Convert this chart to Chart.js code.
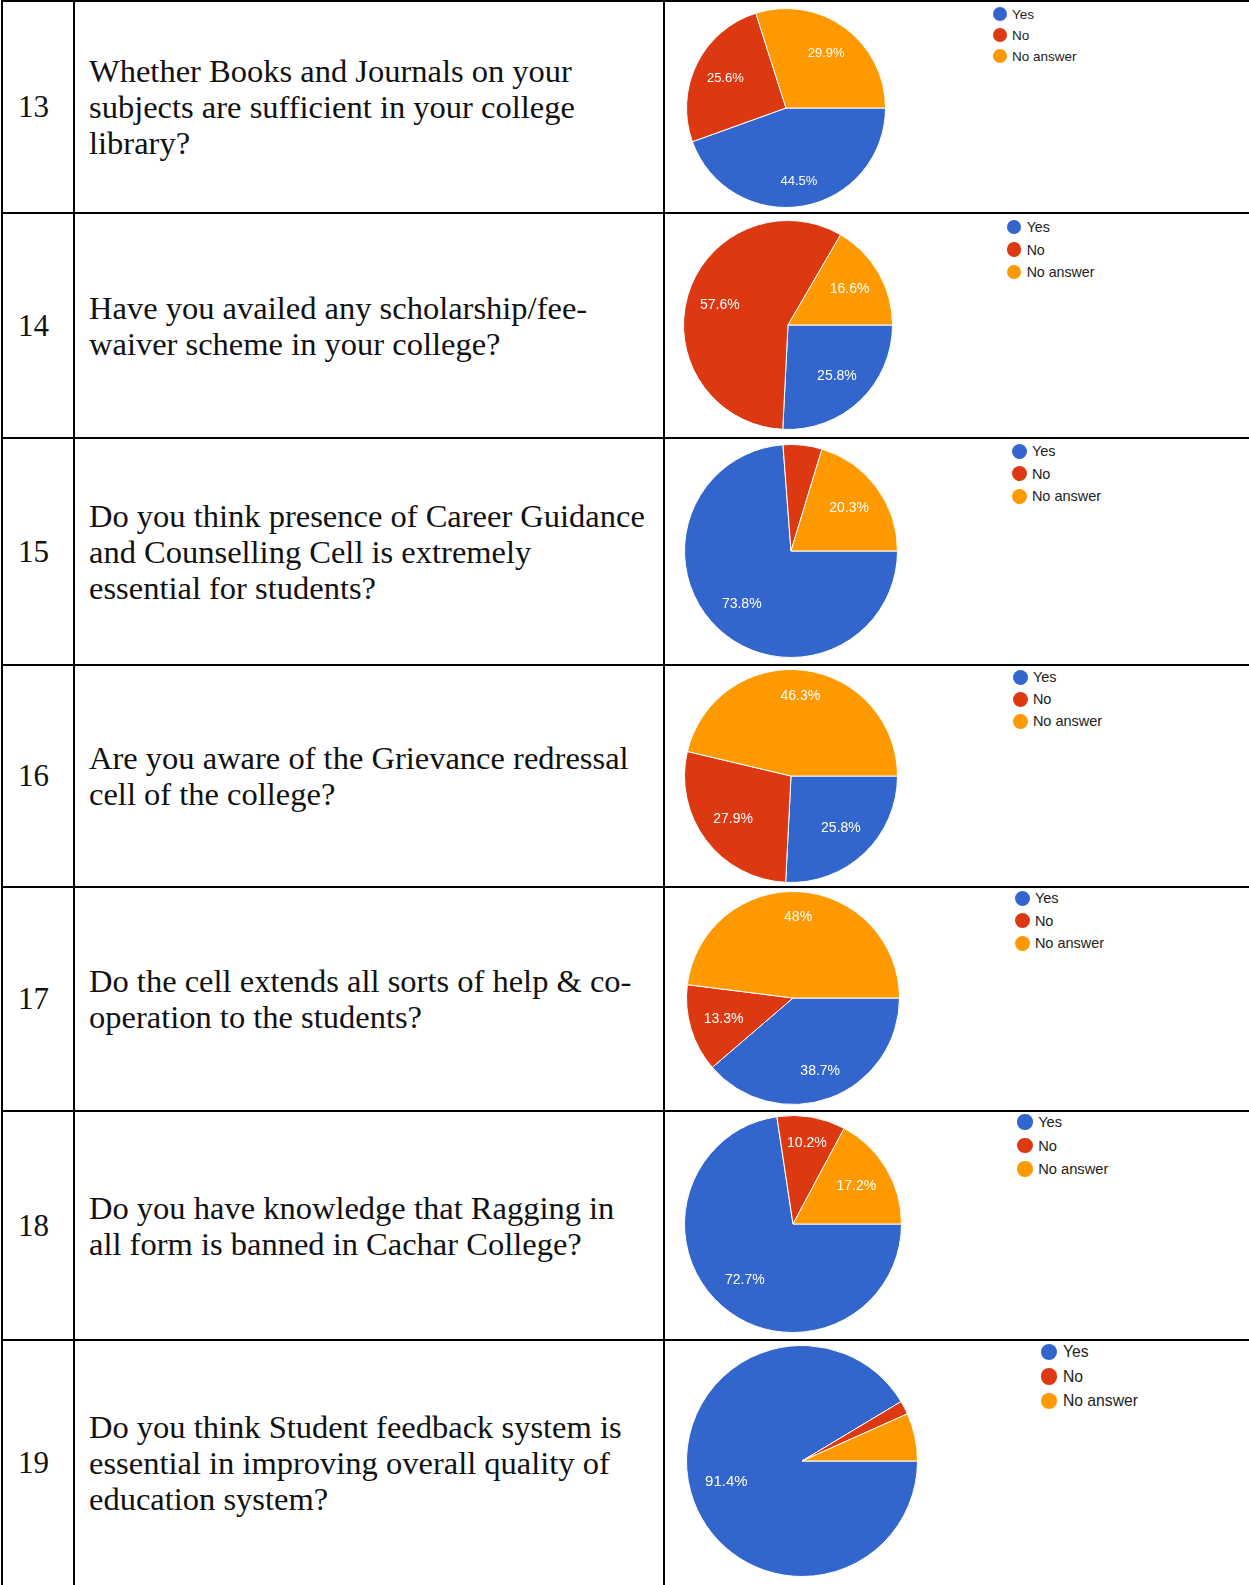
<!DOCTYPE html>
<html>
<head>
<meta charset="utf-8">
<script src="https://cdn.jsdelivr.net/npm/chart.js@4.4.1/dist/chart.umd.min.js"></script>
<style>
  body { margin: 0; background: #fff; width: 1249px; height: 1585px; overflow: hidden; position: relative; }
  .hl { position: absolute; left: 1px; right: 0; height: 2px; background: #000; }
  .vl { position: absolute; top: 0; bottom: 0; width: 2px; background: #000; }
  .num, .q { position: absolute; font-family: "Liberation Serif", "Times New Roman", serif; font-size: 31px; line-height: 36px; color: #111; white-space: nowrap; transform: translateY(-50%); }
  .q { font-size: 32.5px; }
  .leg { position: absolute; font-family: "Liberation Sans", Arial, sans-serif; color: #222; white-space: nowrap; }
  .leg div { display: flex; align-items: center; }
  .leg span.dot { display: inline-block; border-radius: 50%; flex: none; }
  canvas { position: absolute; }
</style>
</head>
<body>
<script>
// survey data
const questionNumbers = [13, 14, 15, 16, 17, 18, 19];
const questions = [
  'Whether Books and Journals on your<br>subjects are sufficient in your college<br>library?',
  'Have you availed any scholarship/fee-<br>waiver scheme in your college?',
  'Do you think presence of Career Guidance<br>and Counselling Cell is extremely<br>essential for students?',
  'Are you aware of the Grievance redressal<br>cell of the college?',
  'Do the cell extends all sorts of help &amp; co-<br>operation to the students?',
  'Do you have knowledge that Ragging in<br>all form is banned in Cachar College?',
  'Do you think Student feedback system is<br>essential in improving overall quality of<br>education system?'
];
const answerLabels = ['Yes', 'No', 'No answer'];
const yesValues = [44.5, 25.8, 73.8, 25.8, 38.7, 72.7, 91.4];
const noValues = [25.6, 57.6, 5.9, 27.9, 13.3, 10.2, 1.9];
const noAnswerValues = [29.9, 16.6, 20.3, 46.3, 48, 17.2, 6.7];

// layout
const colors = ['#3366cc', '#dc3912', '#ff9900'];
const rowLines = [0, 212, 437, 664, 886, 1110, 1339, 1585];
const pieCenters = [[786, 108], [788, 325], [791, 551], [791, 776], [793, 998], [793, 1224], [802, 1461]];
const pieRadii = [99, 104, 106, 106, 106, 108, 115];
const legendPos = [[1000, 14, 21], [1014, 227, 22.5], [1019, 451, 22.5], [1020, 677, 22], [1022, 898, 22.5], [1025, 1122, 23.5], [1049, 1352, 24.5]];

rowLines.slice(0, 7).forEach(y => {
  const d = document.createElement('div');
  d.className = 'hl';
  d.style.top = y + 'px';
  document.body.appendChild(d);
});
[1, 73, 663].forEach(x => {
  const d = document.createElement('div');
  d.className = 'vl';
  d.style.left = x + 'px';
  document.body.appendChild(d);
});

// white percentage text inside the slices, pushed out a bit near the vertical
const sliceLabels = {
  id: 'sliceLabels',
  afterDatasetsDraw(chart) {
    const ctx = chart.ctx;
    const values = chart.data.datasets[0].data;
    chart.getDatasetMeta(0).data.forEach((arc, i) => {
      if (values[i] < 7) return;
      const p = arc.getProps(['x', 'y', 'startAngle', 'endAngle', 'outerRadius'], true);
      const a = (p.startAngle + p.endAngle) / 2;
      const d = p.outerRadius * (0.68 + Math.max(0, Math.abs(Math.sin(a)) - 0.8) * 0.4);
      ctx.save();
      ctx.fillStyle = '#fff';
      ctx.font = Math.round(p.outerRadius * 0.13) + 'px "Liberation Sans", Arial, sans-serif';
      ctx.textAlign = 'center';
      ctx.textBaseline = 'middle';
      ctx.fillText(values[i] + '%', p.x + Math.cos(a) * d, p.y + Math.sin(a) * d);
      ctx.restore();
    });
  }
};

questionNumbers.forEach((n, i) => {
  const mid = (rowLines[i] + rowLines[i + 1]) / 2 + 1;

  const num = document.createElement('div');
  num.className = 'num';
  num.style.left = '18px';
  num.style.top = mid + 'px';
  num.textContent = n;
  document.body.appendChild(num);

  const q = document.createElement('div');
  q.className = 'q';
  q.style.left = '89px';
  q.style.top = mid + 'px';
  q.innerHTML = questions[i];
  document.body.appendChild(q);

  const r = pieRadii[i];
  const [cx, cy] = pieCenters[i];
  const canvas = document.createElement('canvas');
  canvas.width = 2 * r + 2;
  canvas.height = 2 * r + 2;
  canvas.style.left = (cx - r - 1) + 'px';
  canvas.style.top = (cy - r - 1) + 'px';
  document.body.appendChild(canvas);

  new Chart(canvas, {
    type: 'pie',
    data: {
      labels: answerLabels,
      datasets: [{
        data: [yesValues[i], noValues[i], noAnswerValues[i]],
        backgroundColor: colors,
        borderColor: '#fff',
        borderWidth: 1,
        hoverOffset: 0
      }]
    },
    options: {
      responsive: false,
      animation: false,
      rotation: 90,
      layout: { padding: 0 },
      plugins: { legend: { display: false }, tooltip: { enabled: false } }
    },
    plugins: [sliceLabels]
  });

  // legend
  const k = r / 99;
  const [lx, ly, step] = legendPos[i];
  const leg = document.createElement('div');
  leg.className = 'leg';
  leg.style.left = (lx - 7 * k) + 'px';
  leg.style.top = (ly - step / 2) + 'px';
  leg.style.fontSize = (13.5 * k).toFixed(1) + 'px';
  answerLabels.forEach((lab, j) => {
    const row = document.createElement('div');
    row.style.height = step + 'px';
    const dot = document.createElement('span');
    dot.className = 'dot';
    dot.style.width = dot.style.height = (14 * k).toFixed(1) + 'px';
    dot.style.background = colors[j];
    dot.style.marginRight = (5 * k).toFixed(1) + 'px';
    row.appendChild(dot);
    row.appendChild(document.createTextNode(lab));
    leg.appendChild(row);
  });
  document.body.appendChild(leg);
});
</script>
</body>
</html>
